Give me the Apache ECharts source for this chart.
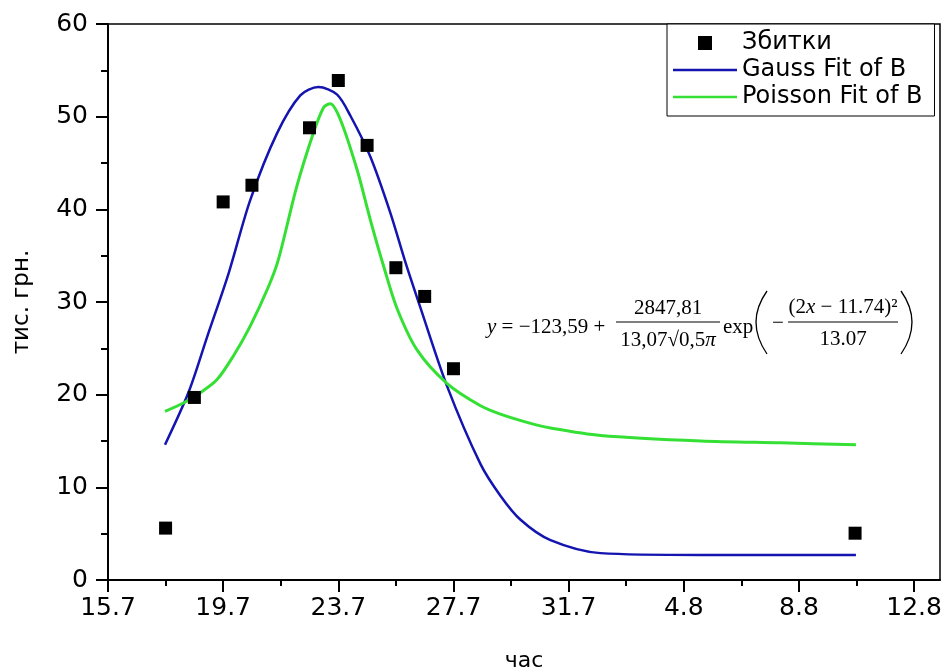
<!DOCTYPE html>
<html>
<head>
<meta charset="utf-8">
<script src="https://cdn.jsdelivr.net/npm/echarts@6/dist/echarts.min.js"></script>
<style>html,body{margin:0;padding:0;background:#fff;}#c{width:946px;height:672px;}</style>
</head>
<body>
<div id="c"></div>
<script>
// x positions are in axis units: tick label i sits at 4*i
const xTickLabels = ['15.7','19.7','23.7','27.7','31.7','4.8','8.8','12.8'];
const xMajorTicks = [0,4,8,12,16,20,24,28];
const xMinorTicks = [2,6,10,14,18,22,26];
const yTicks = [0,10,20,30,40,50,60];

const lossX = [2,3,4,5,7,8,9,10,11,12,25.95];
const lossY = [5.6,19.7,40.8,42.6,48.8,53.9,46.9,33.7,30.6,22.8,5.05];

const gaussX = [1.98,2.79,3.45,4.19,4.94,5.87,6.68,7.31,7.95,8.42,9.11,9.81,10.33,10.84,11.78,12.94,13.63,14.33,15.37,17.11,20.6,25.98];
const gaussY = [14.6,20.2,26.3,33.1,41.0,48.2,52.3,53.2,52.4,50.1,45.7,39.6,34.3,29.5,20.9,12.5,9.1,6.5,4.3,2.9,2.7,2.7];

const poissonX = [1.98,2.62,3.2,3.78,4.36,4.94,5.58,5.92,6.56,7.14,7.49,7.72,8.07,8.65,9.11,9.58,10.04,10.74,11.78,12.94,13.63,14.68,15.37,17.11,20.6,23.37,25.98];
const poissonY = [18.2,19.1,20.2,21.6,24.2,27.4,31.7,34.6,42.5,48.3,51.0,51.4,49.7,44.3,38.9,33.8,29.3,24.8,21.2,18.8,17.9,16.9,16.4,15.6,15.0,14.8,14.6];

const zip = (a, b) => a.map((v, i) => [v, b[i]]);
const FONT = 'DejaVu Sans';
const SERIF = 'Liberation Serif';
const FS = 21;
const serifFont = FS + 'px "' + SERIF + '"';
const italicRich = {i: {fontStyle: 'italic', fontFamily: SERIF, fontSize: FS}};

const chart = echarts.init(document.getElementById('c'), null, {renderer: 'canvas'});

chart.setOption({
  animation: false,
  backgroundColor: '#fff',
  grid: {left: 108, right: 6, top: 24, bottom: 92, outerBoundsMode: 'none', containLabel: false,
    show: true, borderColor: '#000', borderWidth: 1.5, backgroundColor: 'transparent'},
  legend: {
    orient: 'vertical', left: 667, top: 24,
    padding: [7, 12, 7, 6], itemGap: 3, itemWidth: 64, itemHeight: 14,
    borderColor: '#000', borderWidth: 1, backgroundColor: '#fff',
    textStyle: {fontFamily: FONT, fontSize: 24, color: '#000'},
    data: [
      {name: 'Збитки', icon: 'path://M0,0h10v10h-10z'},
      {name: 'Gauss Fit of B', icon: 'path://M0,0h64v2.5h-64z'},
      {name: 'Poisson Fit of B', icon: 'path://M0,0h64v2.5h-64z'}
    ]
  },
  xAxis: [{
    type: 'value', min: 0, max: 28.9, interval: 4,
    name: 'час', nameLocation: 'middle', nameGap: 70,
    nameTextStyle: {fontFamily: FONT, fontSize: 22, color: '#000'},
    axisLine: {onZero: false, lineStyle: {color: '#000', width: 2}},
    axisTick: {customValues: xMajorTicks, length: 12, lineStyle: {color: '#000', width: 2}},
    axisLabel: {customValues: xMajorTicks, formatter: v => xTickLabels[Math.round(v / 4)], margin: 16,
      fontFamily: FONT, fontSize: 25, color: '#000'},
    splitLine: {show: false}
  }, {
    type: 'value', min: 0, max: 28.9, position: 'bottom', gridIndex: 0,
    axisLine: {show: false},
    axisTick: {customValues: xMinorTicks, length: 6, lineStyle: {color: '#000', width: 2}},
    axisLabel: {show: false},
    splitLine: {show: false}
  }],
  yAxis: {
    type: 'value', min: 0, max: 60, interval: 10,
    name: 'тис. грн.', nameLocation: 'middle', nameGap: 74,
    nameTextStyle: {fontFamily: FONT, fontSize: 23, color: '#000'},
    axisLine: {onZero: false, lineStyle: {color: '#000', width: 2}},
    axisTick: {length: 12, lineStyle: {color: '#000', width: 2}},
    minorTick: {show: true, splitNumber: 2, length: 7, lineStyle: {color: '#000', width: 2}},
    axisLabel: {formatter: v => (yTicks.indexOf(v) >= 0 ? String(v) : ''), margin: 20,
      fontFamily: FONT, fontSize: 25, color: '#000'},
    splitLine: {show: false}
  },
  series: [
    {name: 'Збитки', type: 'scatter', symbol: 'rect', symbolSize: 13,
      itemStyle: {color: '#000', opacity: 1}, data: zip(lossX, lossY), z: 5},
    {name: 'Gauss Fit of B', type: 'line', symbol: 'none', smooth: 0.3,
      lineStyle: {color: '#1414b0', width: 2.5}, itemStyle: {color: '#1414b0'}, data: zip(gaussX, gaussY)},
    {name: 'Poisson Fit of B', type: 'line', symbol: 'none', smooth: 0.3,
      lineStyle: {color: '#35e035', width: 3}, itemStyle: {color: '#35e035'}, data: zip(poissonX, poissonY)}
  ],
  graphic: [
    {type: 'text', x: 487, y: 327, silent: true, style: {
      text: '{i|y} = −123,59 +', verticalAlign: 'middle', fill: '#000', font: serifFont, rich: italicRich}},
    {type: 'text', x: 668, y: 308, silent: true, style: {text: '2847,81', align: 'center', verticalAlign: 'middle', fill: '#000', font: serifFont}},
    {type: 'line', silent: true, shape: {x1: 616, y1: 322, x2: 720, y2: 322}, style: {stroke: '#000', lineWidth: 1}},
    {type: 'text', x: 668, y: 340, silent: true, style: {
      text: '13,07√0,5{i|π}', align: 'center', verticalAlign: 'middle', fill: '#000', font: serifFont, rich: italicRich}},
    {type: 'text', x: 723, y: 327, silent: true, style: {text: 'exp', verticalAlign: 'middle', fill: '#000', font: serifFont}},
    {type: 'bezierCurve', silent: true, shape: {x1: 767, y1: 291, x2: 767, y2: 354, cpx1: 745, cpy1: 322}, style: {stroke: '#000', lineWidth: 1.3, fill: 'none'}},
    {type: 'text', x: 778, y: 323, silent: true, style: {text: '−', align: 'center', verticalAlign: 'middle', fill: '#000', font: serifFont}},
    {type: 'text', x: 843, y: 307, silent: true, style: {
      text: '(2{i|x} − 11.74)²', align: 'center', verticalAlign: 'middle', fill: '#000', font: serifFont, rich: italicRich}},
    {type: 'line', silent: true, shape: {x1: 788, y1: 322, x2: 898, y2: 322}, style: {stroke: '#000', lineWidth: 1}},
    {type: 'text', x: 843, y: 339, silent: true, style: {text: '13.07', align: 'center', verticalAlign: 'middle', fill: '#000', font: serifFont}},
    {type: 'bezierCurve', silent: true, shape: {x1: 901, y1: 291, x2: 901, y2: 354, cpx1: 923, cpy1: 322}, style: {stroke: '#000', lineWidth: 1.3, fill: 'none'}}
  ]
});
</script>
</body>
</html>
